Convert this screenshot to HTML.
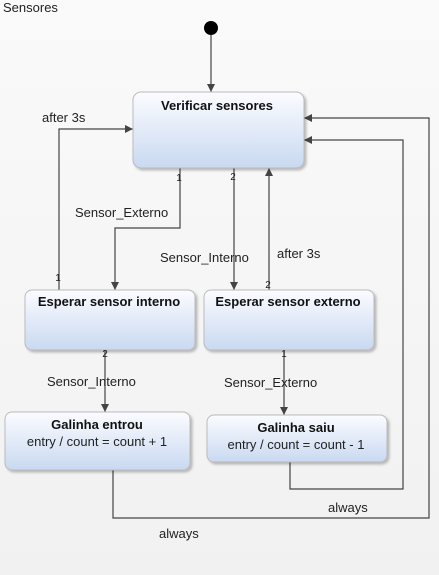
<!DOCTYPE html>
<html><head><style>
html,body{margin:0;padding:0;}
body{width:439px;height:575px;overflow:hidden;background:linear-gradient(#fafafa,#f1f1f1);}
svg{display:block;font-family:"Liberation Sans","DejaVu Sans",sans-serif;}
</style></head><body>
<svg width="439" height="575" viewBox="0 0 439 575">
<defs>
<linearGradient id="g" x1="0" y1="0" x2="0" y2="1">
<stop offset="0" stop-color="#fbfcff"/><stop offset="1" stop-color="#c9d9f1"/>
</linearGradient>
<marker id="a" markerWidth="10" markerHeight="10" refX="8" refY="4" orient="auto" markerUnits="userSpaceOnUse">
<path d="M0,0 L8,4 L0,8 z" fill="#444"/>
</marker>
<filter id="s" x="-10%" y="-10%" width="130%" height="130%"><feDropShadow dx="2" dy="2" stdDeviation="1.2" flood-color="#000" flood-opacity="0.25"/></filter>
</defs>
<text x="3" y="12" font-size="13" fill="#222">Sensores</text>
<circle cx="211" cy="28" r="7" fill="#000"/>
<g fill="none" stroke="#444" stroke-width="1.2">
<path d="M211,35 V92" marker-end="url(#a)"/>
<path d="M59,290 V129 H133" marker-end="url(#a)"/>
<path d="M180,168 V228 H115 V290" marker-end="url(#a)"/>
<path d="M234,168 V290" marker-end="url(#a)"/>
<path d="M269,290 V168" marker-end="url(#a)"/>
<path d="M105,350 V412" marker-end="url(#a)"/>
<path d="M284,350 V415" marker-end="url(#a)"/>
<path d="M290,462 V489 H403 V140 H304" marker-end="url(#a)"/>
<path d="M113,470 V518 H429 V118 H304" marker-end="url(#a)"/>
</g>
<g fill="url(#g)" stroke="#bbb" stroke-width="1" filter="url(#s)">
<rect x="133" y="92" width="171" height="76" rx="8"/>
<rect x="25" y="290" width="170" height="60" rx="7"/>
<rect x="204" y="290" width="170" height="60" rx="7"/>
<rect x="5" y="412" width="185" height="58" rx="7"/>
<rect x="207" y="415" width="180" height="47" rx="7"/>
</g>
<g font-size="13" font-weight="bold" fill="#111" text-anchor="middle">
<text x="217" y="110">Verificar sensores</text>
<text x="109" y="306">Esperar sensor interno</text>
<text x="288" y="306">Esperar sensor externo</text>
<text x="97" y="429">Galinha entrou</text>
<text x="296" y="432">Galinha saiu</text>
</g>
<g font-size="13" fill="#222">
<text x="97" y="446" text-anchor="middle">entry / count = count + 1</text>
<text x="296" y="449" text-anchor="middle">entry / count = count - 1</text>
<text x="42" y="122">after 3s</text>
<text x="75" y="217">Sensor_Externo</text>
<text x="160" y="262">Sensor_Interno</text>
<text x="277" y="258">after 3s</text>
<text x="47" y="386">Sensor_Interno</text>
<text x="224" y="387">Sensor_Externo</text>
<text x="328" y="512">always</text>
<text x="159" y="538">always</text>
</g>
<g font-size="10" fill="#222" text-anchor="middle">
<text x="179" y="181">1</text>
<text x="233" y="180">2</text>
<text x="58" y="281">1</text>
<text x="268" y="288">2</text>
<text x="105" y="357">2</text>
<text x="284" y="357">1</text>
</g>
</svg>
</body></html>
